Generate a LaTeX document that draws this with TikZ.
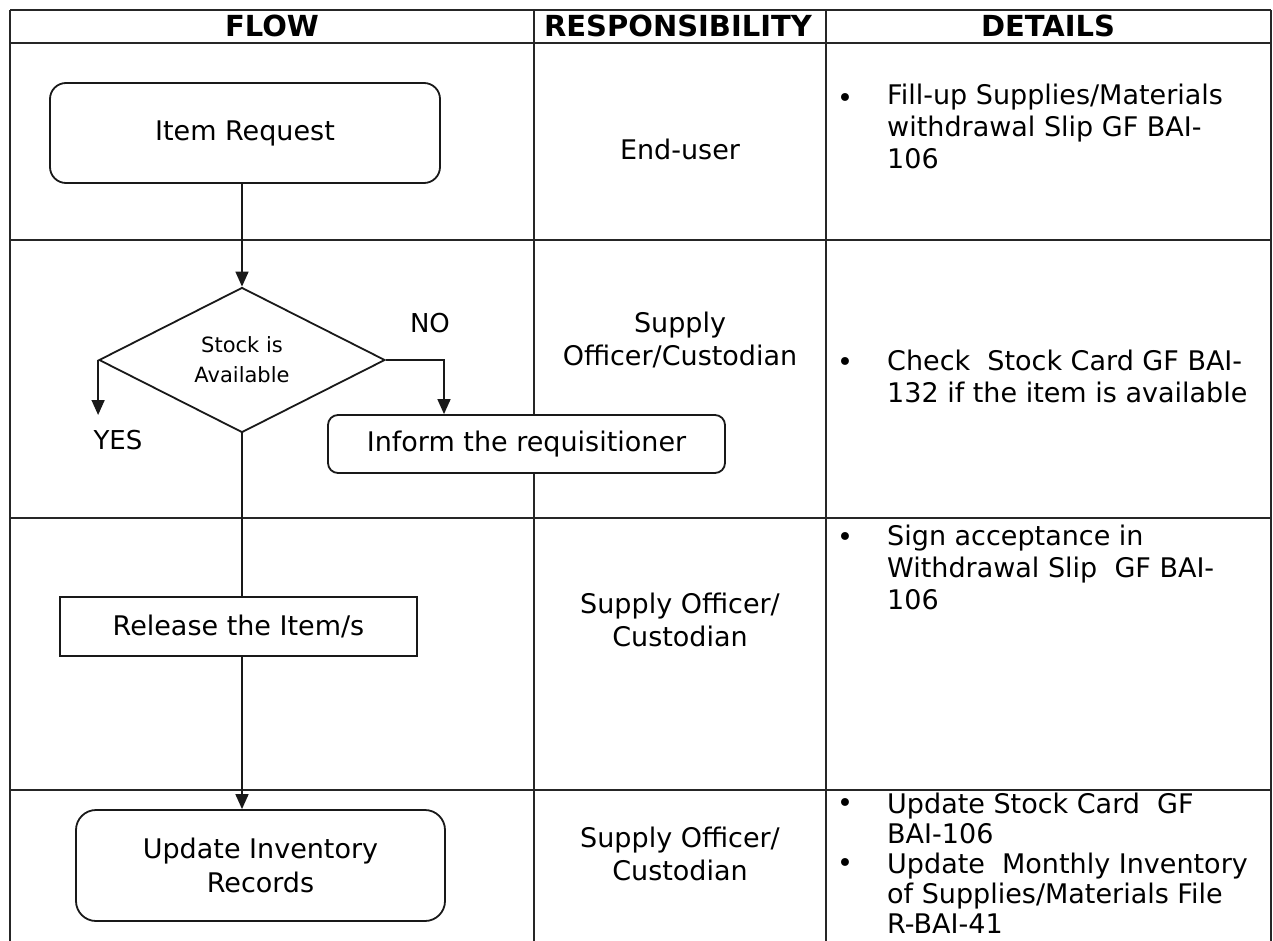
\documentclass[tikz,border=0pt]{standalone}
\usepackage{fontspec}
\setmainfont{DejaVu Sans}
\usetikzlibrary{arrows.meta,shapes.geometric}
\tikzset{
  grid/.style={draw=black!85, line width=1.3pt},
  boxline/.style={draw=black!90, line width=1.8pt, fill=white},
  roundbox/.style={boxline, rectangle, rounded corners=16pt, inner sep=0pt, align=center, font=\fontsize{27}{34}\selectfont},
  plainbox/.style={boxline, rectangle, inner sep=0pt, align=center, font=\fontsize{27}{34}\selectfont},
  decision/.style={boxline, diamond, inner sep=0pt, align=center, font=\fontsize{21}{30}\selectfont},
  conn/.style={draw=black!90, line width=1.6pt},
  arr/.style={conn, -{Triangle[width=13pt,length=15pt]}},
  head/.style={font=\fontsize{29}{32}\selectfont\bfseries, anchor=base, inner sep=0pt},
  resp/.style={font=\fontsize{27}{33}\selectfont, align=center, anchor=base, inner sep=0pt},
  det/.style={font=\fontsize{27}{32}\selectfont, align=left, anchor=base west, inner sep=0pt},
  detb/.style={font=\fontsize{27}{30}\selectfont, align=left, anchor=base west, inner sep=0pt},
  bul/.style={font=\fontsize{27}{32}\selectfont, anchor=center, inner sep=0pt},
  lab/.style={font=\fontsize{26}{30}\selectfont, anchor=base, inner sep=0pt}
}
\begin{document}
\begin{tikzpicture}[x=1pt,y=-1pt]
\useasboundingbox (0,0) rectangle (1273,941);
% table grid
\draw[grid] (10,10) -- (1271,10);
\draw[grid] (10,43) -- (1271,43);
\draw[grid] (10,240) -- (1271,240);
\draw[grid] (10,518) -- (1271,518);
\draw[grid] (10,790) -- (1271,790);
\draw[grid] (10,10) -- (10,941);
\draw[grid] (534,10) -- (534,941);
\draw[grid] (826,10) -- (826,941);
\draw[grid] (1271,10) -- (1271,941);
% headers
\node[head] (hflow) at (272,37) {FLOW};
\node[head] (hresp) at (678,37) {RESPONSIBILITY};
\node[head] (hdet) at (1048,37) {DETAILS};
% flow nodes
\node[roundbox, minimum width=390pt, minimum height=100pt] (item) at (245,133) {Item Request};
\node[decision, minimum width=286pt, minimum height=145pt] (dia) at (242,360) {Stock is\\Available};
\node[roundbox, rounded corners=10pt, minimum width=397pt, minimum height=58pt] (inf) at (526.5,444) {Inform the requisitioner};
\node[plainbox, minimum width=357pt, minimum height=59pt] (rel) at (238.5,626.5) {Release the Item/s};
\node[roundbox, rounded corners=20pt, minimum width=369pt, minimum height=111pt] (upd) at (260.5,865.5) {Update Inventory\\Records};
\coordinate (yesend) at (100,415);
\coordinate (nocorner) at (444,360);
% connectors
\draw[arr] (dia.north |- item.south) -- (dia.north);
\draw[arr] (dia.west) -- (dia.west |- yesend);
\draw[arr] (dia.east) -- (nocorner) -- (nocorner |- inf.north);
\draw[conn] (dia.south) -- (dia.south |- rel.north);
\draw[arr] (dia.south |- rel.south) -- (dia.south |- upd.north);
\node[lab] (yes) at (118,449) {YES};
\node[lab] (no) at (430,332) {NO};
% responsibility
\node[resp] (r1) at (680,160) {End-user};
\node[resp] (r2) at (680,365) {Supply\\Officer/Custodian};
\node[resp] (r3) at (680,646) {Supply Officer/\\Custodian};
\node[resp] (r4) at (680,880) {Supply Officer/\\Custodian};
% details
\node[bul] (b1) at (845,101) {•};
\node[det] (d1) at (887,169) {Fill-up Supplies/Materials\\withdrawal Slip GF BAI-\\106};
\node[bul] (b2) at (845,365) {•};
\node[det] (d2) at (887,402) {Check\ \ Stock Card GF BAI-\\132 if the item is available};
\node[bul] (b3) at (845,540) {•};
\node[det] (d3) at (887,609) {Sign acceptance in\\Withdrawal Slip\ \ GF BAI-\\106};
\node[bul] (b4) at (845,806) {•};
\node[detb] (d4) at (887,843) {Update Stock Card\ \ GF\\BAI-106};
\node[bul] (b5) at (845,866) {•};
\node[detb] (d5) at (887,933) {Update\ \ Monthly Inventory\\of Supplies/Materials File\\R-BAI-41};
\end{tikzpicture}
\end{document}
